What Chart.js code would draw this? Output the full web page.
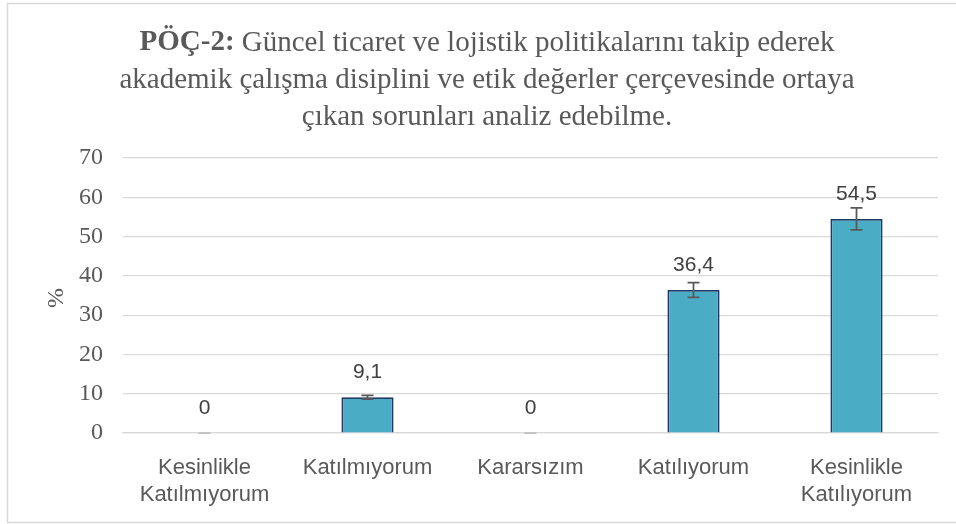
<!DOCTYPE html>
<html>
<head>
<meta charset="utf-8">
<script src="https://cdn.jsdelivr.net/npm/chart.js@4.4.1/dist/chart.umd.min.js"></script>
<style>
  html, body { margin: 0; padding: 0; background: #fff; }
  #wrap { width: 956px; height: 524px; position: relative; }
</style>
</head>
<body>
<div id="wrap"><canvas id="chart"></canvas></div>
<script>
// data
const categories = [['Kesinlikle', 'Katılmıyorum'], 'Katılmıyorum', 'Kararsızım', 'Katılıyorum', ['Kesinlikle', 'Katılıyorum']];
const percents = [0, 9.1, 0, 36.4, 54.5];
const errors = [0, 0.5, 0, 1.9, 2.8];
const titleBold = 'PÖÇ-2:';
const titleLines = [
    ' Güncel ticaret ve lojistik politikalarını takip ederek',
    'akademik çalışma disiplini ve etik değerler çerçevesinde ortaya',
    'çıkan sorunları analiz edebilme.'
];

const serif = '"Liberation Serif", "Times New Roman", serif';
const sans = '"Liberation Sans", Arial, sans-serif';
const textGrey = '#595959';

// frame, title, % label
const decorPlugin = {
    id: 'decor',
    beforeDraw(chart) {
        const c = chart.ctx;
        c.save();
        c.strokeStyle = '#d9d9d9';
        c.lineWidth = 1.5;
        c.strokeRect(7.5, 3.5, 960, 519);
        c.restore();
    },
    afterDraw(chart) {
        const c = chart.ctx;
        c.save();
        c.fillStyle = textGrey;
        c.textBaseline = 'middle';
        // title line 1 with bold prefix
        c.font = 'bold 29px ' + serif;
        const wb = c.measureText(titleBold).width;
        c.font = '29px ' + serif;
        const w1 = c.measureText(titleLines[0]).width;
        let x = 487 - (wb + w1) / 2;
        c.textAlign = 'left';
        c.font = 'bold 29px ' + serif;
        c.fillText(titleBold, x, 43);
        c.font = '29px ' + serif;
        c.fillText(titleLines[0], x + wb, 43);
        c.textAlign = 'center';
        c.fillText(titleLines[1], 487, 80);
        c.fillText(titleLines[2], 487, 117);
        // y axis title
        c.font = '24px ' + serif;
        c.translate(57, 298);
        c.rotate(-Math.PI / 2);
        c.fillText('%', 0, 0);
        c.restore();
    }
};

// error bars and value labels
const barExtras = {
    id: 'barExtras',
    afterDatasetsDraw(chart) {
        const c = chart.ctx;
        const y = chart.scales.y;
        const meta = chart.getDatasetMeta(0);
        c.save();
        meta.data.forEach((bar, i) => {
            const v = percents[i];
            const e = errors[i];
            const yTop = y.getPixelForValue(v + e);
            const yBot = y.getPixelForValue(v - e);
            c.strokeStyle = v === 0 ? '#bfbfbf' : textGrey;
            c.lineWidth = 1.75;
            c.beginPath();
            c.moveTo(bar.x, yTop); c.lineTo(bar.x, yBot);
            c.moveTo(bar.x - 6, yTop); c.lineTo(bar.x + 6, yTop);
            c.moveTo(bar.x - 6, yBot); c.lineTo(bar.x + 6, yBot);
            c.stroke();
            c.fillStyle = '#404040';
            c.font = '21px ' + sans;
            c.textAlign = 'center';
            c.textBaseline = 'middle';
            c.fillText(String(v).replace('.', ','), bar.x, y.getPixelForValue(v) - 25);
        });
        c.restore();
    }
};

new Chart(document.getElementById('chart').getContext('2d'), {
    type: 'bar',
    data: {
        labels: categories,
        datasets: [{
            data: percents,
            backgroundColor: '#4bacc6',
            borderColor: '#1f3864',
            borderWidth: 1.75,
            categoryPercentage: 1,
            barPercentage: 0.32
        }]
    },
    options: {
        responsive: true, maintainAspectRatio: false, animation: false,
        devicePixelRatio: 1,
        layout: { padding: { top: 158, right: 18, left: 0, bottom: 0 } },
        plugins: { legend: { display: false }, tooltip: { enabled: false } },
        scales: {
            y: {
                min: 0, max: 70,
                ticks: { stepSize: 10, color: textGrey, font: { family: serif, size: 24 }, padding: 20 },
                grid: { color: '#d9d9d9', lineWidth: 1.25, drawTicks: false },
                border: { display: false },
                afterFit(s) { s.width = 123; }
            },
            x: {
                ticks: { color: textGrey, font: { family: sans, size: 22, lineHeight: 1.2 }, padding: 22, maxRotation: 0, autoSkip: false },
                grid: { display: false, drawTicks: false },
                border: { color: '#d9d9d9', width: 1.25 },
                afterFit(s) { s.height = 91; }
            }
        }
    },
    plugins: [decorPlugin, barExtras]
});
</script>
</body>
</html>
